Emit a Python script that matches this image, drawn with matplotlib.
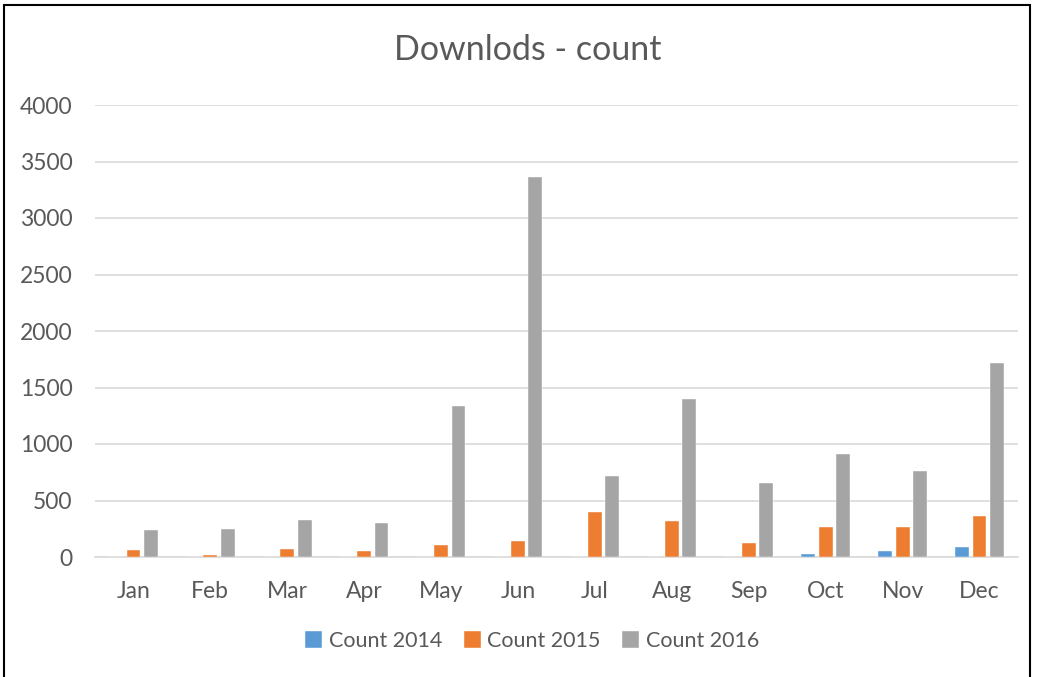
import matplotlib
matplotlib.use("Agg")
import matplotlib.pyplot as plt
from matplotlib.patches import Rectangle
import numpy as np

months = ["Jan", "Feb", "Mar", "Apr", "May", "Jun", "Jul", "Aug", "Sep", "Oct", "Nov", "Dec"]
count_2014 = [0, 0, 0, 0, 0, 0, 0, 0, 0, 30, 55, 85]
count_2015 = [60, 15, 70, 50, 110, 140, 400, 315, 125, 265, 265, 360]
count_2016 = [240, 250, 325, 305, 1340, 3360, 720, 1395, 655, 915, 760, 1720]
series_names = ["Count 2014", "Count 2015", "Count 2016"]
colors = ["#5B9BD5", "#ED7D31", "#A5A5A5"]
y_ticks = [0, 500, 1000, 1500, 2000, 2500, 3000, 3500, 4000]

plt.rcParams['font.family'] = ['Lato', 'DejaVu Sans']

W, H = 1037, 677
fig = plt.figure(figsize=(W / 100, H / 100), dpi=100)
fig.patch.set_facecolor("white")

# outer frame
fig.patches.append(Rectangle((4 / W, -0.05), (1030 - 4) / W, (H - 5) / H + 0.05,
                             transform=fig.transFigure, fill=False,
                             edgecolor="black", linewidth=1.5))

ax = fig.add_axes([95 / W, (H - 557) / H, (1018 - 95) / W, (557 - 105) / H])
x = np.arange(len(months))
bw = 0.18
off = 0.225
data = [count_2014, count_2015, count_2016]
for i, (vals, name, c) in enumerate(zip(data, series_names, colors)):
    ax.bar(x + (i - 1) * off, vals, width=bw, color=c, label=name,
           edgecolor="white", linewidth=0.3, zorder=3)

ax.set_xlim(-0.5, len(months) - 0.5)
ax.set_ylim(0, 4000)
ax.set_yticks(y_ticks)
ax.set_yticklabels([str(v) for v in y_ticks])
ax.set_xticks(x)
ax.set_xticklabels(months)
ax.grid(axis="y", color="#D9D9D9", linewidth=1.2, zorder=0)
for s in ["top", "right", "left"]:
    ax.spines[s].set_visible(False)
ax.spines["bottom"].set_color("#D9D9D9")
ax.spines["bottom"].set_linewidth(1.2)
ax.tick_params(axis="both", length=0, labelsize=16.5, colors="#595959")
ax.tick_params(axis="y", pad=16)
ax.tick_params(axis="x", pad=17)

fig.text(528 / W, 1 - 50 / H, "Downlods - count", ha="center", va="center",
         fontsize=24.5, color="#595959")

leg = fig.legend(loc="center", bbox_to_anchor=(532 / W, 1 - 641 / H), ncol=3,
                 frameon=False, fontsize=15.5, handlelength=0.8, handleheight=0.8,
                 handletextpad=0.3, columnspacing=1.0)
for t in leg.get_texts():
    t.set_color("#595959")

fig.savefig("out.png", dpi=100)
